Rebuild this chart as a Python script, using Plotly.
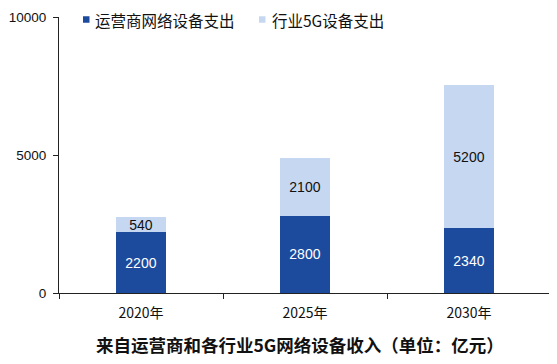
import plotly.graph_objects as go

categories = ["2020年", "2025年", "2030年"]
operator_spend = [2200, 2800, 2340]
industry_spend = [540, 2100, 5200]
series_names = ["运营商网络设备支出", "行业5G设备支出"]
series_colors = ["#1c4a9c", "#c6d8f1"]
y_ticks = [0, 5000, 10000]
y_tick_text = ["0", "5000", "10000"]
title_text = "来自运营商和各行业5G网络设备收入（单位：亿元）"

FONT = "Noto Sans CJK SC, sans-serif"
NUMFONT = "Liberation Sans, Arial, sans-serif"

# page body has an 8px default margin; compensate so the figure lands on target pixels
OFF = 8
W, H = 557 - OFF, 364 - OFF
ML, MR, MT, MB = 59 - OFF, 6, 17 - OFF, 71
PW, PH = W - ML - MR, H - MT - MB

def px_x(p):
    return (p - OFF - ML) / PW

def px_y(p):
    return (H - MB - (p - OFF)) / PH

fig = go.Figure()
fig.add_trace(go.Bar(
    x=categories, y=operator_spend, name=series_names[0],
    marker=dict(color=series_colors[0], line=dict(width=0)),
    text=[str(v) for v in operator_spend], textposition="inside",
    insidetextanchor="middle",
    textfont=dict(color="white", size=14, family=NUMFONT),
    showlegend=False,
))
fig.add_trace(go.Bar(
    x=categories, y=industry_spend, name=series_names[1],
    marker=dict(color=series_colors[1], line=dict(width=0)),
    text=[str(v) for v in industry_spend], textposition="inside",
    insidetextanchor="middle",
    textfont=dict(color="#111111", size=14, family=NUMFONT),
    showlegend=False,
))

fig.update_layout(
    barmode="stack",
    bargap=0.69,
    width=W, height=H,
    margin=dict(l=ML, r=MR, t=MT, b=MB, autoexpand=False),
    paper_bgcolor="white", plot_bgcolor="white",
    font=dict(family=FONT, size=14, color="#111111"),
    showlegend=False,
    uniformtext=dict(mode="show", minsize=10),
)
fig.update_xaxes(
    showline=True, linecolor="#222222", linewidth=1,
    ticks="outside", tickson="boundaries", ticklen=5, tickcolor="#222222",
    tickfont=dict(size=14, family=FONT, color="#111111"),
    ticklabelstandoff=7,
    showgrid=False,
)
fig.update_yaxes(
    range=[0, 10000], tickvals=y_ticks, ticktext=y_tick_text,
    showline=True, linecolor="#222222", linewidth=1,
    ticks="outside", ticklen=5, tickcolor="#222222",
    tickfont=dict(size=13.5, family=NUMFONT, color="#111111"),
    ticklabelstandoff=4,
    showgrid=False, zeroline=False,
)

# legend swatches + labels (top-left, inside plot)
legend_sq_left = [83, 259]
legend_text_left = [93, 270]
legend_cy = 19.5
for name, col, sx, tx in zip(series_names, series_colors, legend_sq_left, legend_text_left):
    fig.add_shape(type="rect", xref="paper", yref="paper",
                  x0=px_x(sx), x1=px_x(sx + 6.5),
                  y0=px_y(legend_cy + 3.25), y1=px_y(legend_cy - 3.25),
                  fillcolor=col, line=dict(width=0))
    fig.add_annotation(text=name, xref="paper", yref="paper",
                       x=px_x(tx), y=px_y(legend_cy), xanchor="left", yanchor="middle",
                       showarrow=False, font=dict(size=15.5, family=FONT, color="#111111"))

fig.add_annotation(
    text="<b>" + title_text + "</b>", xref="paper", yref="paper",
    x=px_x(300), y=px_y(344), xanchor="center", yanchor="middle", showarrow=False,
    font=dict(size=17.5, family=FONT, color="#111111"),
)
fig.write_html("out.html")
